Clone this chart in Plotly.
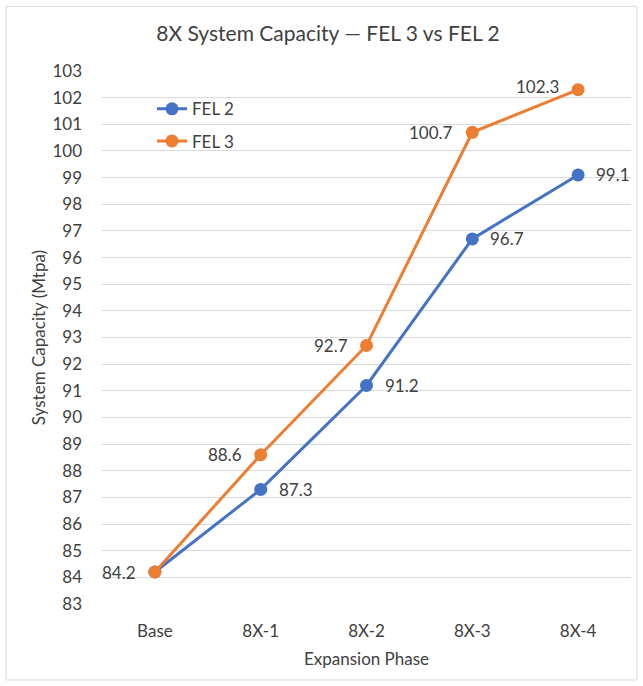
import plotly.graph_objects as go

# Expansion phases and system capacity (Mtpa) per FEL stage
phases = ["Base", "8X-1", "8X-2", "8X-3", "8X-4"]
fel2 = [84.2, 87.3, 91.2, 96.7, 99.1]
fel3 = [84.2, 88.6, 92.7, 100.7, 102.3]

y_ticks = list(range(83, 104))

BLUE = "#4472C4"
ORANGE = "#ED7D31"
FONT = "Lato"
TXT = "#404040"
FS = 17

fig = go.Figure()
fig.add_trace(go.Scatter(
    x=phases, y=fel2, name="FEL 2", legendgroup="a", mode="lines+markers",
    line=dict(color=BLUE, width=3), marker=dict(color=BLUE, size=13),
    cliponaxis=False,
))
fig.add_trace(go.Scatter(
    x=phases, y=fel3, name="FEL 3", legendgroup="b", mode="lines+markers",
    line=dict(color=ORANGE, width=3), marker=dict(color=ORANGE, size=13),
    cliponaxis=False,
))

# Value labels: FEL 3 to the left of its points, FEL 2 to the right.
# The shared base value is labelled once.
annotations = []
for i, (p, v) in enumerate(zip(phases, fel3)):
    annotations.append(dict(
        x=p, y=v, text=f"{v:.1f}", showarrow=False, xanchor="right", yanchor="middle",
        xshift=-17, yshift=3 if i == len(phases) - 1 else 0,
        font=dict(family=FONT, size=FS, color=TXT),
    ))
for p, v in list(zip(phases, fel2))[1:]:
    annotations.append(dict(
        x=p, y=v, text=f"{v:.1f}", showarrow=False, xanchor="left", yanchor="middle",
        xshift=16, font=dict(family=FONT, size=FS, color=TXT),
    ))

fig.update_layout(
    width=643, height=686,
    paper_bgcolor="white", plot_bgcolor="white",
    margin=dict(l=102, r=12, t=71, b=82),
    font=dict(family=FONT, color=TXT),
    title=dict(text="8X System Capacity — FEL 3 vs FEL 2", x=328 / 643, xref="container",
               xanchor="center", y=1 - 34 / 686, yanchor="middle",
               font=dict(family=FONT, size=21, color=TXT)),
    legend=dict(x=0.0945, y=0.962, xanchor="left", yanchor="top",
                bgcolor="rgba(0,0,0,0)", font=dict(family=FONT, size=FS, color=TXT),
                traceorder="grouped", tracegroupgap=7),
    showlegend=True,
    annotations=annotations,
    shapes=[dict(type="rect", xref="paper", yref="paper",
                 x0=-0.1815, x1=1.0113, y0=-0.1425, y1=1.1213,
                 line=dict(color="#D9D9D9", width=1), fillcolor="rgba(0,0,0,0)",
                 layer="below")],
)

fig.update_xaxes(
    type="category", range=[-0.5, 4.5], showgrid=False, zeroline=False, showline=False,
    ticks="", tickfont=dict(family=FONT, size=FS, color=TXT), ticklabelstandoff=15,
    automargin=False,
    title=dict(text="Expansion Phase", font=dict(family=FONT, size=FS, color=TXT), standoff=13),
)
fig.update_yaxes(
    range=[83, 103], tickvals=y_ticks, showgrid=True, gridcolor="#D9D9D9", gridwidth=1,
    zeroline=False, showline=False, ticks="", automargin=False,
    tickfont=dict(family=FONT, size=FS, color=TXT), ticklabelstandoff=19,
    title=dict(text="System Capacity (Mtpa)", font=dict(family=FONT, size=FS, color=TXT), standoff=2),
)

fig.write_html("out.html")
